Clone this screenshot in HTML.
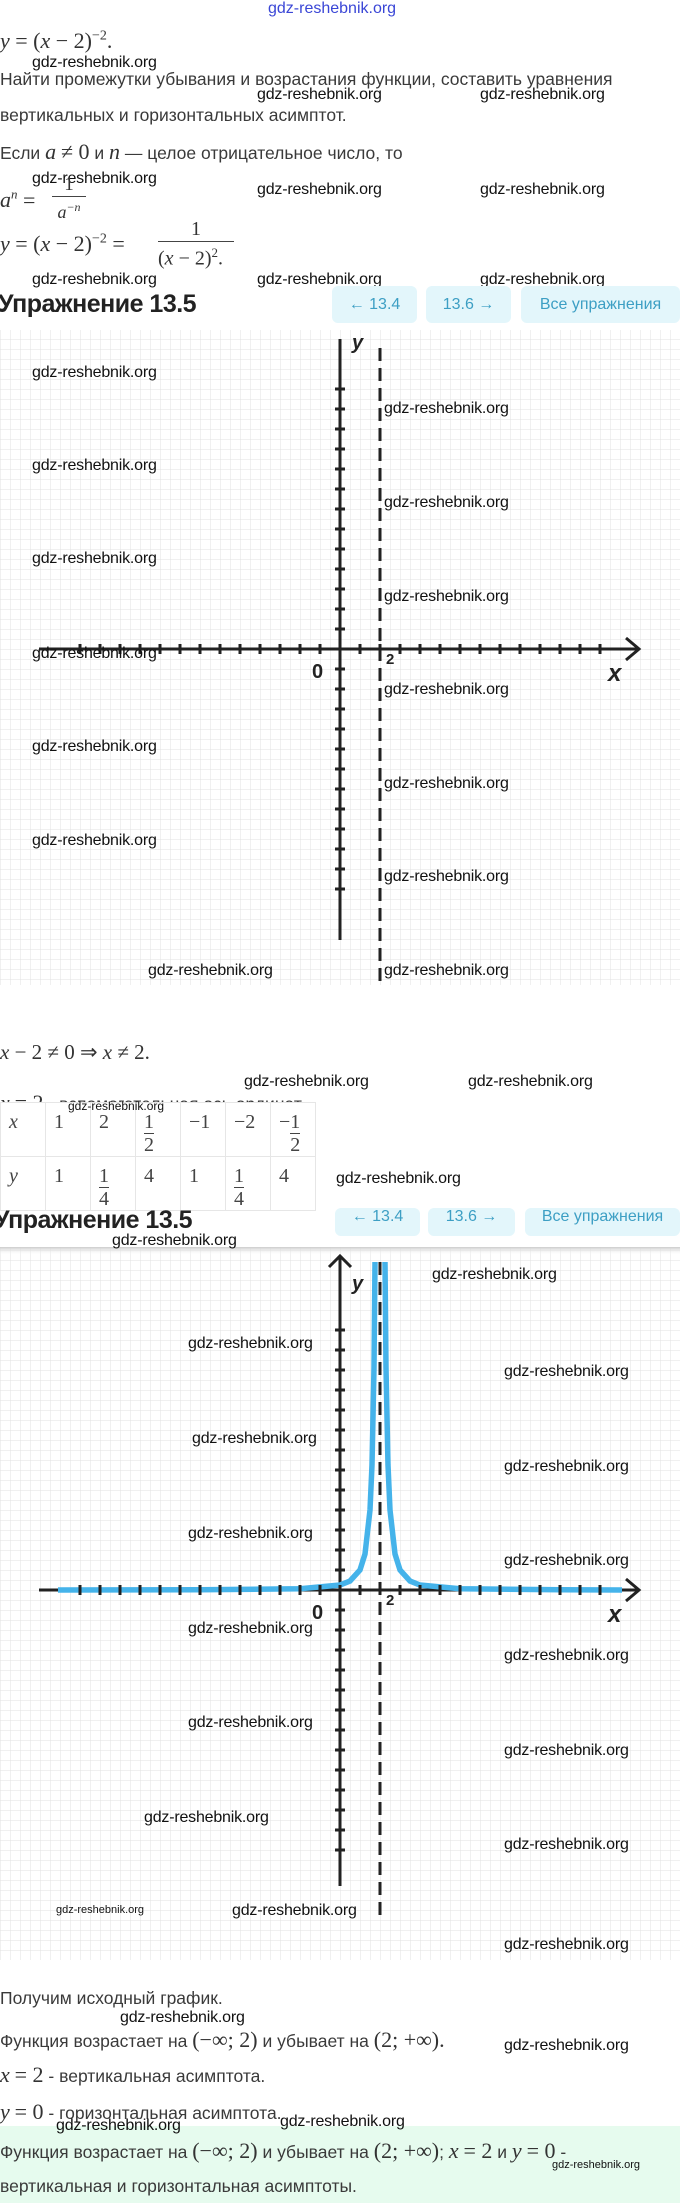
<!DOCTYPE html>
<html><head><meta charset="utf-8">
<style>
html,body{margin:0;padding:0;background:#fff;}
body{width:680px;height:2203px;position:relative;overflow:hidden;font-family:"Liberation Sans","DejaVu Sans",sans-serif;color:#333;}
.a{position:absolute;white-space:nowrap;}
.t{font-size:17.5px;color:#3a3a3a;}
.m{font-family:"Liberation Serif",serif;font-size:22px;color:#333;}
.i{font-style:italic;}
.w{font-family:"Liberation Sans",sans-serif;font-size:16px;color:#111;letter-spacing:-0.2px;}
.h{font-size:25px;font-weight:bold;color:#222;letter-spacing:-0.5px;}
.btn{position:absolute;background:#e3f6fb;border-radius:6px;color:#3d9fc4;font-size:16px;text-align:center;line-height:37px;height:37px;}
table{border-collapse:collapse;position:absolute;left:0;top:1102px;background:#fff;}
td{border:1px solid #e6e6e6;width:45px;height:53px;vertical-align:top;padding:8px 0 0 8px;box-sizing:border-box;font-family:"Liberation Serif",serif;font-size:20px;color:#444;}
.fr{display:inline-block;text-align:center;vertical-align:top;line-height:22px;}
.fr span{display:block;}
.fr .n{border-bottom:1.5px solid #444;}
</style></head><body>

<div class="a" style="left:268px;top:0;font-size:16px;color:#3a46d6;">gdz-reshebnik.org</div>

<div class="a m" style="left:0;top:28px;"><span class="i">y</span> = (<span class="i">x</span> − 2)<sup style="font-size:14px">−2</sup>.</div>
<div class="a w" style="left:32px;top:54px;">gdz-reshebnik.org</div>
<div class="a t" style="left:0;top:69px;">Найти промежутки убывания и возрастания функции, составить уравнения</div>
<div class="a w" style="left:257px;top:86px;">gdz-reshebnik.org</div>
<div class="a w" style="left:480px;top:86px;">gdz-reshebnik.org</div>
<div class="a t" style="left:0;top:105px;">вертикальных и горизонтальных асимптот.</div>
<div class="a t" style="left:0;top:139px;">Если <span class="m i">a</span> <span class="m">≠ 0</span> и <span class="m i">n</span> — целое отрицательное число, то</div>
<div class="a w" style="left:32px;top:170px;">gdz-reshebnik.org</div>
<div class="a w" style="left:257px;top:181px;">gdz-reshebnik.org</div>
<div class="a w" style="left:480px;top:181px;">gdz-reshebnik.org</div>
<div class="a m" style="left:0;top:187px;"><span class="i">a<sup style="font-size:13px">n</sup></span> =</div>
<div class="a m" style="left:52px;top:174px;width:34px;text-align:center;font-size:19px;border-bottom:1.5px solid #444;line-height:22px;">1</div>
<div class="a m i" style="left:52px;top:200px;width:34px;text-align:center;font-size:18px;">a<sup style="font-size:12px">−n</sup></div>
<div class="a m" style="left:0;top:231px;"><span class="i">y</span> = (<span class="i">x</span> − 2)<sup style="font-size:14px">−2</sup> =</div>
<div class="a m" style="left:158px;top:217px;width:76px;text-align:center;font-size:20px;border-bottom:1.5px solid #444;line-height:24px;">1</div>
<div class="a m" style="left:158px;top:245px;font-size:20px;">(<span class="i">x</span> − 2)<sup style="font-size:13px">2</sup>.</div>
<div class="a w" style="left:32px;top:271px;">gdz-reshebnik.org</div>
<div class="a w" style="left:257px;top:271px;">gdz-reshebnik.org</div>
<div class="a w" style="left:480px;top:271px;">gdz-reshebnik.org</div>

<div class="a h" style="left:-2px;top:290px;">Упражнение 13.5</div>
<div class="btn" style="left:332px;top:286px;width:85px;">← 13.4</div>
<div class="btn" style="left:426px;top:286px;width:85px;">13.6 →</div>
<div class="btn" style="left:521px;top:286px;width:159px;">Все упражнения</div>

<svg class="a" style="left:0;top:0" width="680" height="2203">
<defs>
<pattern id="g1" x="0" y="9" width="10" height="10" patternUnits="userSpaceOnUse"><path d="M0 0H10M0 0V10" stroke="#e2e2e2" stroke-width="1" fill="none"/></pattern>
<pattern id="g2" x="0" y="0" width="10" height="10" patternUnits="userSpaceOnUse"><path d="M0 0H10M0 0V10" stroke="#e2e2e2" stroke-width="1" fill="none"/></pattern>
<linearGradient id="sh" x1="0" y1="0" x2="0" y2="1"><stop offset="0" stop-color="#ccc"/><stop offset="1" stop-color="#fff" stop-opacity="0"/></linearGradient>
</defs>
<!-- graph 1 -->
<rect x="0" y="330" width="680" height="655" fill="url(#g1)"/>
<line x1="39" y1="649" x2="638" y2="649" stroke="#222" stroke-width="3"/>
<path d="M626 638 L639 649 L626 660" fill="none" stroke="#222" stroke-width="3"/>
<line x1="78.5" y1="649" x2="602" y2="649" stroke="#222" stroke-width="10" stroke-dasharray="3 17"/>
<line x1="340" y1="339" x2="340" y2="940" stroke="#222" stroke-width="3"/>
<line x1="340" y1="387.5" x2="340" y2="891" stroke="#222" stroke-width="10" stroke-dasharray="3 17"/>
<line x1="380" y1="348" x2="380" y2="982" stroke="#222" stroke-width="3" stroke-dasharray="13 7"/>
<text x="352" y="349" font-family="Liberation Sans" font-style="italic" font-weight="bold" font-size="20" fill="#222">y</text>
<text x="312" y="678" font-family="Liberation Sans" font-weight="bold" font-size="20" fill="#222">0</text>
<text x="386" y="664" font-family="Liberation Sans" font-weight="bold" font-size="15" fill="#222">2</text>
<text x="608" y="681" font-family="Liberation Sans" font-style="italic" font-weight="bold" font-size="24" fill="#222">x</text>

<!-- graph 2 -->
<rect x="0" y="1247" width="680" height="713" fill="url(#g2)"/>
<rect x="0" y="1247" width="680" height="8" fill="url(#sh)"/>
<line x1="39" y1="1590" x2="638" y2="1590" stroke="#222" stroke-width="3"/>
<path d="M626 1579 L639 1590 L626 1601" fill="none" stroke="#222" stroke-width="3"/>
<line x1="340" y1="1256" x2="340" y2="1886" stroke="#222" stroke-width="3"/>
<path d="M329 1267 L340 1256 L351 1267" fill="none" stroke="#222" stroke-width="3"/>
<polyline points="58,1590 200,1589.8 300,1588.7 340,1585 350,1581 360,1570 365,1554 370,1510 372,1465 374,1368 375,1262" fill="none" stroke="#45b3ea" stroke-width="5.5"/>
<polyline points="385,1262 386,1368 388,1465 390,1510 395,1554 400,1570 410,1581 420,1585 460,1588.7 560,1589.8 622,1590" fill="none" stroke="#45b3ea" stroke-width="5.5"/>
<line x1="78.5" y1="1590" x2="602" y2="1590" stroke="#222" stroke-width="10" stroke-dasharray="3 17"/>
<line x1="340" y1="1328.5" x2="340" y2="1852" stroke="#222" stroke-width="10" stroke-dasharray="3 17"/>
<line x1="380" y1="1262" x2="380" y2="1920" stroke="#222" stroke-width="3" stroke-dasharray="13 7"/>
<text x="352" y="1290" font-family="Liberation Sans" font-style="italic" font-weight="bold" font-size="20" fill="#222">y</text>
<text x="312" y="1619" font-family="Liberation Sans" font-weight="bold" font-size="20" fill="#222">0</text>
<text x="386" y="1605" font-family="Liberation Sans" font-weight="bold" font-size="15" fill="#222">2</text>
<text x="608" y="1622" font-family="Liberation Sans" font-style="italic" font-weight="bold" font-size="24" fill="#222">x</text>
</svg>

<!-- graph1 watermarks -->
<div class="a w" style="left:32px;top:364px;">gdz-reshebnik.org</div>
<div class="a w" style="left:32px;top:457px;">gdz-reshebnik.org</div>
<div class="a w" style="left:32px;top:550px;">gdz-reshebnik.org</div>
<div class="a w" style="left:32px;top:645px;">gdz-reshebnik.org</div>
<div class="a w" style="left:32px;top:738px;">gdz-reshebnik.org</div>
<div class="a w" style="left:32px;top:832px;">gdz-reshebnik.org</div>
<div class="a w" style="left:384px;top:400px;">gdz-reshebnik.org</div>
<div class="a w" style="left:384px;top:494px;">gdz-reshebnik.org</div>
<div class="a w" style="left:384px;top:588px;">gdz-reshebnik.org</div>
<div class="a w" style="left:384px;top:681px;">gdz-reshebnik.org</div>
<div class="a w" style="left:384px;top:775px;">gdz-reshebnik.org</div>
<div class="a w" style="left:384px;top:868px;">gdz-reshebnik.org</div>
<div class="a w" style="left:384px;top:962px;">gdz-reshebnik.org</div>
<div class="a w" style="left:148px;top:962px;">gdz-reshebnik.org</div>

<div class="a m" style="left:0;top:1040px;font-size:21px;"><span class="i">x</span> − 2 ≠ 0 ⇒ <span class="i">x</span> ≠ 2.</div>
<div class="a w" style="left:244px;top:1073px;">gdz-reshebnik.org</div>
<div class="a w" style="left:468px;top:1073px;">gdz-reshebnik.org</div>
<div class="a t" style="left:0;top:1090px;"><span class="m i">x</span> <span class="m">= 2</span> - вспомогательная ось ординат</div>

<table>
<tr><td class="i">x</td><td>1</td><td>2</td><td><span class="fr"><span class="n">1</span><span>2</span></span></td><td>−1</td><td>−2</td><td>−<span class="fr"><span class="n">1</span><span>2</span></span></td></tr>
<tr><td class="i">y</td><td>1</td><td><span class="fr"><span class="n">1</span><span>4</span></span></td><td>4</td><td>1</td><td><span class="fr"><span class="n">1</span><span>4</span></span></td><td>4</td></tr>
</table>
<div class="a" style="left:68px;top:1099px;font-size:12px;color:#111;">gdz-reshebnik.org</div>
<div class="a w" style="left:336px;top:1170px;">gdz-reshebnik.org</div>

<div class="a h" style="left:-6px;top:1206px;">Упражнение 13.5</div>
<div class="btn" style="left:335px;top:1208px;width:85px;height:28px;line-height:18px;">← 13.4</div>
<div class="btn" style="left:428px;top:1208px;width:87px;height:28px;line-height:18px;">13.6 →</div>
<div class="btn" style="left:525px;top:1208px;width:155px;height:28px;line-height:18px;">Все упражнения</div>
<div class="a w" style="left:112px;top:1232px;">gdz-reshebnik.org</div>

<!-- graph2 watermarks -->
<div class="a w" style="left:432px;top:1266px;">gdz-reshebnik.org</div>
<div class="a w" style="left:188px;top:1335px;">gdz-reshebnik.org</div>
<div class="a w" style="left:192px;top:1430px;">gdz-reshebnik.org</div>
<div class="a w" style="left:188px;top:1525px;">gdz-reshebnik.org</div>
<div class="a w" style="left:188px;top:1620px;">gdz-reshebnik.org</div>
<div class="a w" style="left:188px;top:1714px;">gdz-reshebnik.org</div>
<div class="a w" style="left:144px;top:1809px;">gdz-reshebnik.org</div>
<div class="a w" style="left:504px;top:1363px;">gdz-reshebnik.org</div>
<div class="a w" style="left:504px;top:1458px;">gdz-reshebnik.org</div>
<div class="a w" style="left:504px;top:1552px;">gdz-reshebnik.org</div>
<div class="a w" style="left:504px;top:1647px;">gdz-reshebnik.org</div>
<div class="a w" style="left:504px;top:1742px;">gdz-reshebnik.org</div>
<div class="a w" style="left:504px;top:1836px;">gdz-reshebnik.org</div>
<div class="a w" style="left:504px;top:1936px;">gdz-reshebnik.org</div>
<div class="a" style="left:56px;top:1904px;font-size:11px;color:#111;">gdz-reshebnik.org</div>
<div class="a w" style="left:232px;top:1902px;">gdz-reshebnik.org</div>

<div class="a t" style="left:0;top:1988px;">Получим исходный график.</div>
<div class="a w" style="left:120px;top:2009px;">gdz-reshebnik.org</div>
<div class="a t" style="left:0;top:2027px;">Функция возрастает на <span class="m">(−∞; 2)</span> и убывает на <span class="m">(2; +∞).</span></div>
<div class="a w" style="left:504px;top:2037px;">gdz-reshebnik.org</div>
<div class="a t" style="left:0;top:2062px;"><span class="m i">x</span> <span class="m">= 2</span> - вертикальная асимптота.</div>
<div class="a t" style="left:0;top:2099px;"><span class="m i">y</span> <span class="m">= 0</span> - горизонтальная асимптота.</div>

<div class="a" style="left:0;top:2126px;width:680px;height:77px;background:#e6fbee;"></div>
<div class="a w" style="left:56px;top:2117px;">gdz-reshebnik.org</div>
<div class="a w" style="left:280px;top:2113px;">gdz-reshebnik.org</div>
<div class="a t" style="left:0;top:2138px;">Функция возрастает на <span class="m">(−∞; 2)</span> и убывает на <span class="m">(2; +∞)</span>; <span class="m i">x</span> <span class="m">= 2</span> и <span class="m i">y</span> <span class="m">= 0</span> -</div>
<div class="a" style="left:552px;top:2159px;font-size:11px;color:#111;">gdz-reshebnik.org</div>
<div class="a t" style="left:0;top:2176px;">вертикальная и горизонтальная асимптоты.</div>
</body></html>
